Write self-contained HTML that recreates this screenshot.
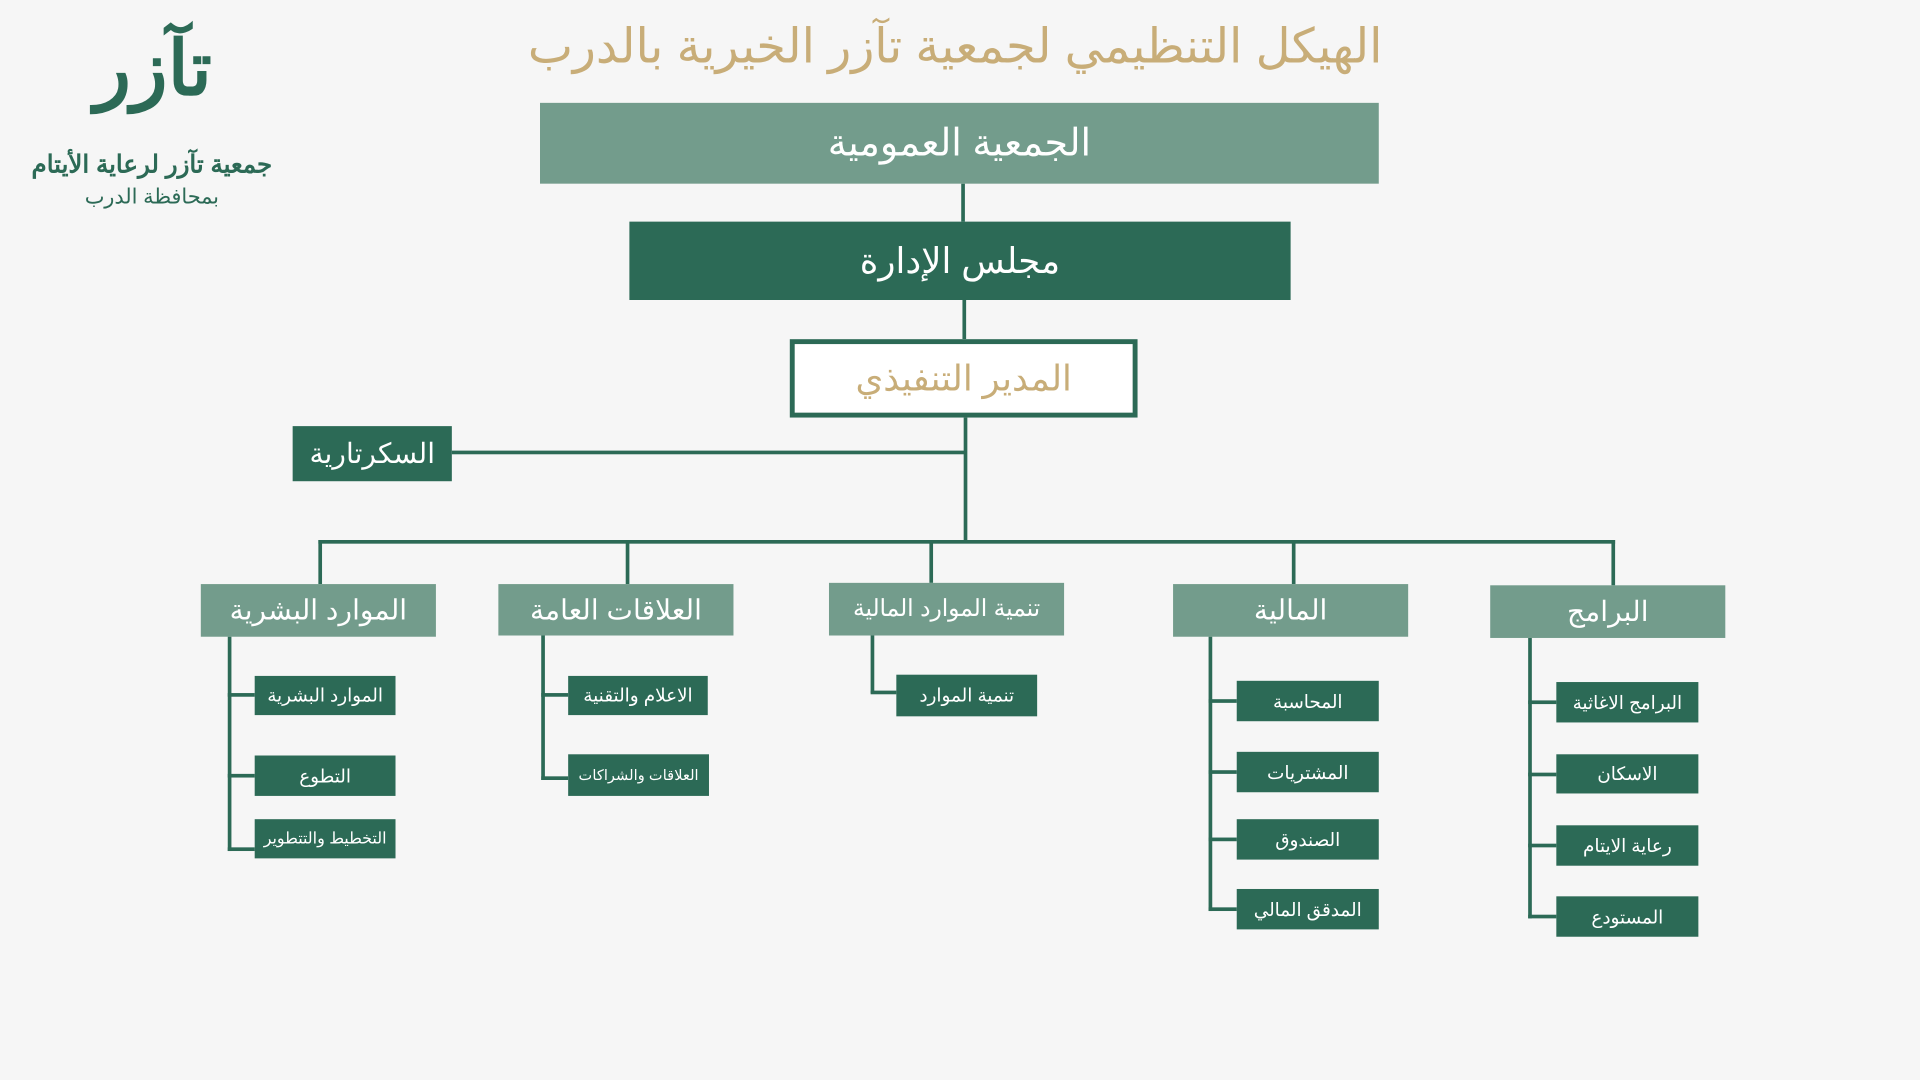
<!DOCTYPE html>
<html><head><meta charset="utf-8"><style>
html,body{margin:0;padding:0;background:#f6f6f6;}
body{width:1920px;height:1080px;overflow:hidden;position:relative;}
#s{position:absolute;left:0;top:0;width:1568px;height:882px;transform:scale(1.22449);transform-origin:0 0;font-family:"Liberation Sans","Noto Sans CJK SC",sans-serif;}
.b{position:absolute;display:flex;align-items:center;justify-content:center;color:#fff;white-space:nowrap;direction:rtl;}
.d{background:#2c6a56;}
.m{background:#739c8c;font-size:23px;}
.c{font-size:15px;}
.l{position:absolute;background:#2c6a56;}
</style></head><body><div id="s">
<div class="b" style="left:380px;top:12px;width:800px;height:52px;color:#c8ad78;font-size:39px;">الهيكل التنظيمي لجمعية تآزر الخيرية بالدرب</div>
<div class="b" style="left:40px;top:0px;width:170px;height:110px;color:#2c6a56;font-size:62px;font-weight:bold;">تآزر</div>
<div class="b" style="left:10px;top:120px;width:228px;height:28px;color:#2c6a56;font-size:20px;font-weight:bold;">جمعية تآزر لرعاية الأيتام</div>
<div class="b" style="left:10px;top:148px;width:228px;height:26px;color:#2c6a56;font-size:17px;">بمحافظة الدرب</div>

<div class="l" style="left:785px;top:150px;width:3px;height:31px"></div>
<div class="l" style="left:786px;top:245px;width:3px;height:32px"></div>
<div class="l" style="left:787px;top:341px;width:3px;height:102px"></div>
<div class="l" style="left:369px;top:368px;width:420px;height:3px"></div>
<div class="l" style="left:260px;top:441px;width:1059px;height:3px"></div>
<div class="l" style="left:260px;top:441px;width:3px;height:36px"></div>
<div class="l" style="left:511px;top:441px;width:3px;height:36px"></div>
<div class="l" style="left:759px;top:441px;width:3px;height:35px"></div>
<div class="l" style="left:1055px;top:441px;width:3px;height:36px"></div>
<div class="l" style="left:1316px;top:441px;width:3px;height:37px"></div>

<div class="b" style="left:441px;top:84px;width:685px;height:66px;background:#739c8c;font-size:31px;">الجمعية العمومية</div>
<div class="b d" style="left:514px;top:181px;width:540px;height:64px;font-size:29px;">مجلس الإدارة</div>
<div class="b" style="left:645px;top:277px;width:276px;height:56px;border:4px solid #2c6a56;background:#fff;color:#c8ad78;font-size:29px;">المدير التنفيذي</div>
<div class="b d" style="left:239px;top:348px;width:130px;height:45px;font-size:23px;">السكرتارية</div>

<div class="b m" style="left:164px;top:477px;width:192px;height:43px;">الموارد البشرية</div>
<div class="b m" style="left:407px;top:477px;width:192px;height:42px;">العلاقات العامة</div>
<div class="b m" style="left:677px;top:476px;width:192px;height:43px;font-size:19px;">تنمية الموارد المالية</div>
<div class="b m" style="left:958px;top:477px;width:192px;height:43px;">المالية</div>
<div class="b m" style="left:1217px;top:478px;width:192px;height:43px;">البرامج</div>

<div class="l" style="left:186px;top:520px;width:3px;height:175px"></div>
<div class="l" style="left:186px;top:566px;width:22px;height:3px"></div>
<div class="l" style="left:186px;top:632px;width:22px;height:3px"></div>
<div class="l" style="left:186px;top:692px;width:22px;height:3px"></div>
<div class="b d c" style="left:208px;top:552px;width:115px;height:32px;">الموارد البشرية</div>
<div class="b d c" style="left:208px;top:617px;width:115px;height:33px;">التطوع</div>
<div class="b d c" style="left:208px;top:669px;width:115px;height:32px;font-size:13px;">التخطيط والتتطوير</div>

<div class="l" style="left:442px;top:519px;width:3px;height:118px"></div>
<div class="l" style="left:442px;top:566px;width:22px;height:3px"></div>
<div class="l" style="left:442px;top:634px;width:22px;height:3px"></div>
<div class="b d c" style="left:464px;top:552px;width:114px;height:32px;">الاعلام والتقنية</div>
<div class="b d c" style="left:464px;top:616px;width:115px;height:34px;font-size:12px;">العلاقات والشراكات</div>

<div class="l" style="left:711px;top:519px;width:3px;height:47px"></div>
<div class="l" style="left:711px;top:564px;width:21px;height:3px"></div>
<div class="b d c" style="left:732px;top:551px;width:115px;height:34px;">تنمية الموارد</div>

<div class="l" style="left:987px;top:520px;width:3px;height:224px"></div>
<div class="l" style="left:987px;top:571px;width:23px;height:3px"></div>
<div class="l" style="left:987px;top:629px;width:23px;height:3px"></div>
<div class="l" style="left:987px;top:684px;width:23px;height:3px"></div>
<div class="l" style="left:987px;top:741px;width:23px;height:3px"></div>
<div class="b d c" style="left:1010px;top:556px;width:116px;height:33px;">المحاسبة</div>
<div class="b d c" style="left:1010px;top:614px;width:116px;height:33px;">المشتريات</div>
<div class="b d c" style="left:1010px;top:669px;width:116px;height:33px;">الصندوق</div>
<div class="b d c" style="left:1010px;top:726px;width:116px;height:33px;">المدقق المالي</div>

<div class="l" style="left:1248px;top:521px;width:3px;height:229px"></div>
<div class="l" style="left:1248px;top:572px;width:23px;height:3px"></div>
<div class="l" style="left:1248px;top:631px;width:23px;height:3px"></div>
<div class="l" style="left:1248px;top:689px;width:23px;height:3px"></div>
<div class="l" style="left:1248px;top:747px;width:23px;height:3px"></div>
<div class="b d c" style="left:1271px;top:557px;width:116px;height:33px;">البرامج الاغاثية</div>
<div class="b d c" style="left:1271px;top:616px;width:116px;height:32px;">الاسكان</div>
<div class="b d c" style="left:1271px;top:674px;width:116px;height:33px;">رعاية الايتام</div>
<div class="b d c" style="left:1271px;top:732px;width:116px;height:33px;">المستودع</div>
</div></body></html>
